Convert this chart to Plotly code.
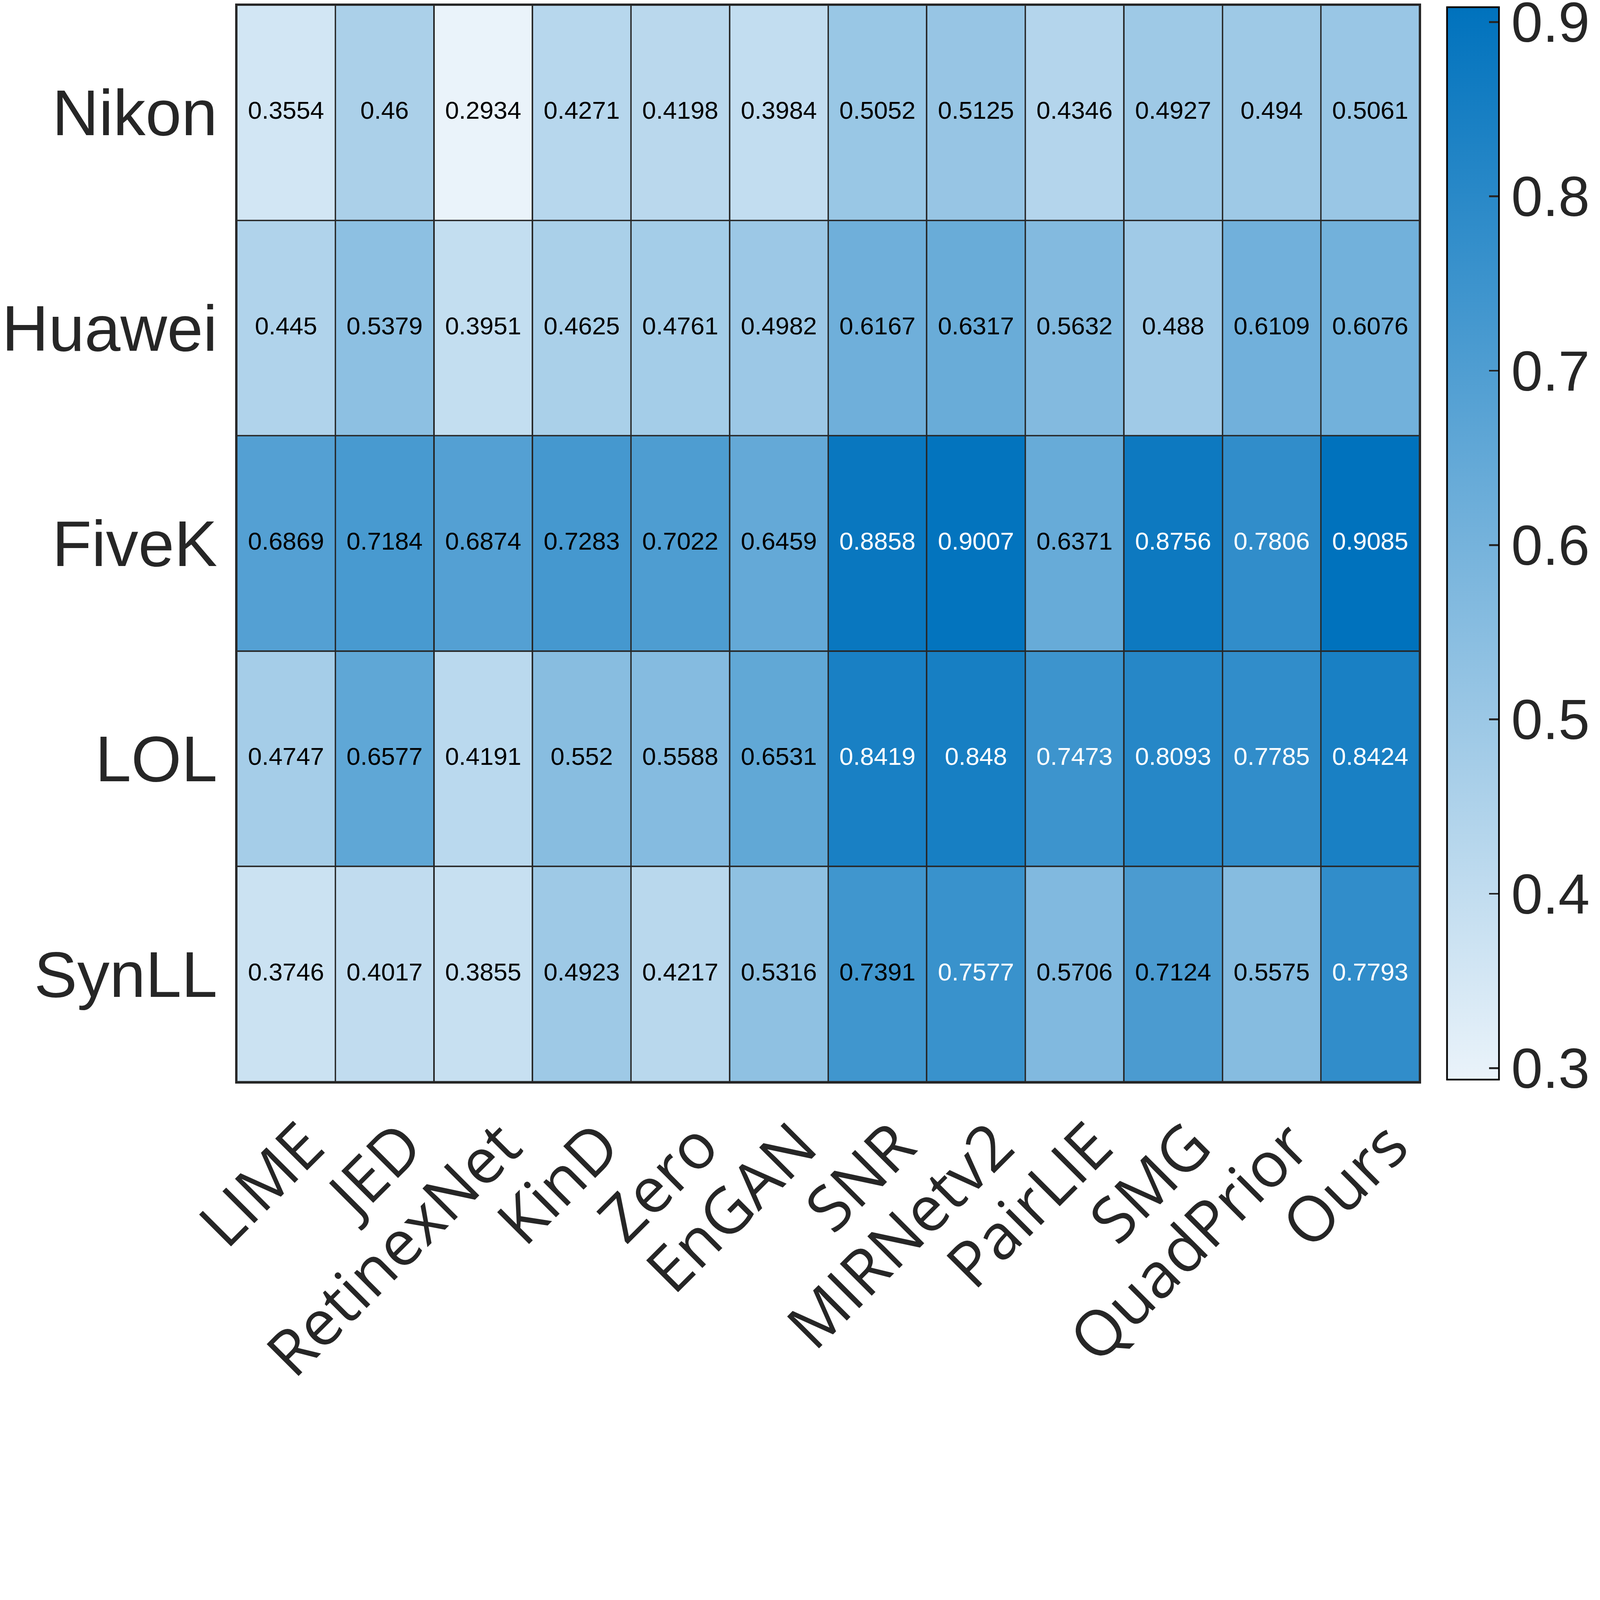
import plotly.graph_objects as go

methods = ["LIME", "JED", "RetinexNet", "KinD", "Zero", "EnGAN", "SNR",
           "MIRNetv2", "PairLIE", "SMG", "QuadPrior", "Ours"]
datasets = ["Nikon", "Huawei", "FiveK", "LOL", "SynLL"]

nikon = [0.3554, 0.46, 0.2934, 0.4271, 0.4198, 0.3984, 0.5052, 0.5125, 0.4346, 0.4927, 0.494, 0.5061]
huawei = [0.445, 0.5379, 0.3951, 0.4625, 0.4761, 0.4982, 0.6167, 0.6317, 0.5632, 0.488, 0.6109, 0.6076]
fivek = [0.6869, 0.7184, 0.6874, 0.7283, 0.7022, 0.6459, 0.8858, 0.9007, 0.6371, 0.8756, 0.7806, 0.9085]
lol = [0.4747, 0.6577, 0.4191, 0.552, 0.5588, 0.6531, 0.8419, 0.848, 0.7473, 0.8093, 0.7785, 0.8424]
synll = [0.3746, 0.4017, 0.3855, 0.4923, 0.4217, 0.5316, 0.7391, 0.7577, 0.5706, 0.7124, 0.5575, 0.7793]

cbar_ticks = [0.3, 0.4, 0.5, 0.6, 0.7, 0.8, 0.9]

z = [nikon, huawei, fivek, lol, synll]
flat = [v for row in z for v in row]
zmin, zmax = min(flat), max(flat)

W, H = 6684, 5751
L, R, T, B = 989, 754, 21, 1232
DARK = "#262626"

colorscale = [[0.0, "rgb(234,243,250)"], [1.0, "rgb(0,114,189)"]]

fig = go.Figure()
fig.add_trace(go.Heatmap(
    z=z, x=methods, y=datasets, zmin=zmin, zmax=zmax,
    colorscale=colorscale, xgap=6, ygap=6, hoverinfo="skip",
    colorbar=dict(
        thickness=217, thicknessmode="pixels",
        len=0.996, lenmode="fraction", y=0.5, yanchor="middle",
        x=1.0233, xanchor="left", xpad=0, ypad=0,
        outlinewidth=7, outlinecolor="black",
        tickvals=cbar_ticks, ticktext=[str(t) for t in cbar_ticks],
        ticks="inside", ticklen=45, tickwidth=8, tickcolor=DARK,
        ticklabeloverflow="allow",
        tickfont=dict(family="Liberation Sans", size=236, color=DARK),
    ),
))

xs, ys, txt, cols = [], [], [], []
for d, row in zip(datasets, z):
    for m, v in zip(methods, row):
        xs.append(m)
        ys.append(d)
        txt.append("{:.4g}".format(v))
        cols.append("white" if v > 0.745 else "black")

fig.add_trace(go.Scatter(
    x=xs, y=ys, mode="text", text=txt, hoverinfo="skip", showlegend=False,
    cliponaxis=False,
    textfont=dict(family="Liberation Sans", size=104, color=cols),
))

fig.update_layout(
    width=W, height=H,
    margin=dict(l=L, r=R, t=T, b=B, pad=0, autoexpand=False),
    paper_bgcolor="white", plot_bgcolor=DARK,
    showlegend=False,
)
fig.update_xaxes(
    type="category", categoryorder="array", categoryarray=methods,
    range=[-0.5, len(methods) - 0.5], autorange=False, automargin=False,
    tickangle=-45, showgrid=False, zeroline=False, ticks="",
    tickfont=dict(family="Open Sans", size=264, color=DARK),
    ticklabelstandoff=0, ticklabelshift=80,
    showline=True, linecolor=DARK, linewidth=7, mirror=True,
)
fig.update_yaxes(
    type="category", categoryorder="array", categoryarray=datasets,
    range=[len(datasets) - 0.5, -0.5], autorange=False, automargin=False,
    showgrid=False, zeroline=False, ticks="",
    tickfont=dict(family="Liberation Sans", size=270, color=DARK),
    ticklabelstandoff=20,
    showline=True, linecolor=DARK, linewidth=7, mirror=True,
)

# Fit the fixed-size figure into the browser viewport if the viewport is smaller.
post = """
var gd = document.getElementById('{plot_id}');
document.documentElement.style.margin = '0';
document.body.style.margin = '0';
document.documentElement.style.overflow = 'hidden';
document.body.style.overflow = 'hidden';
var s = Math.min(window.innerWidth / 6684, window.innerHeight / 5751, 1);
if (s < 1) {
  gd.style.transformOrigin = '0 0';
  gd.style.transform = 'scale(' + s + ')';
}
"""

fig.write_html("out.html", post_script=post, config={"displayModeBar": False})
